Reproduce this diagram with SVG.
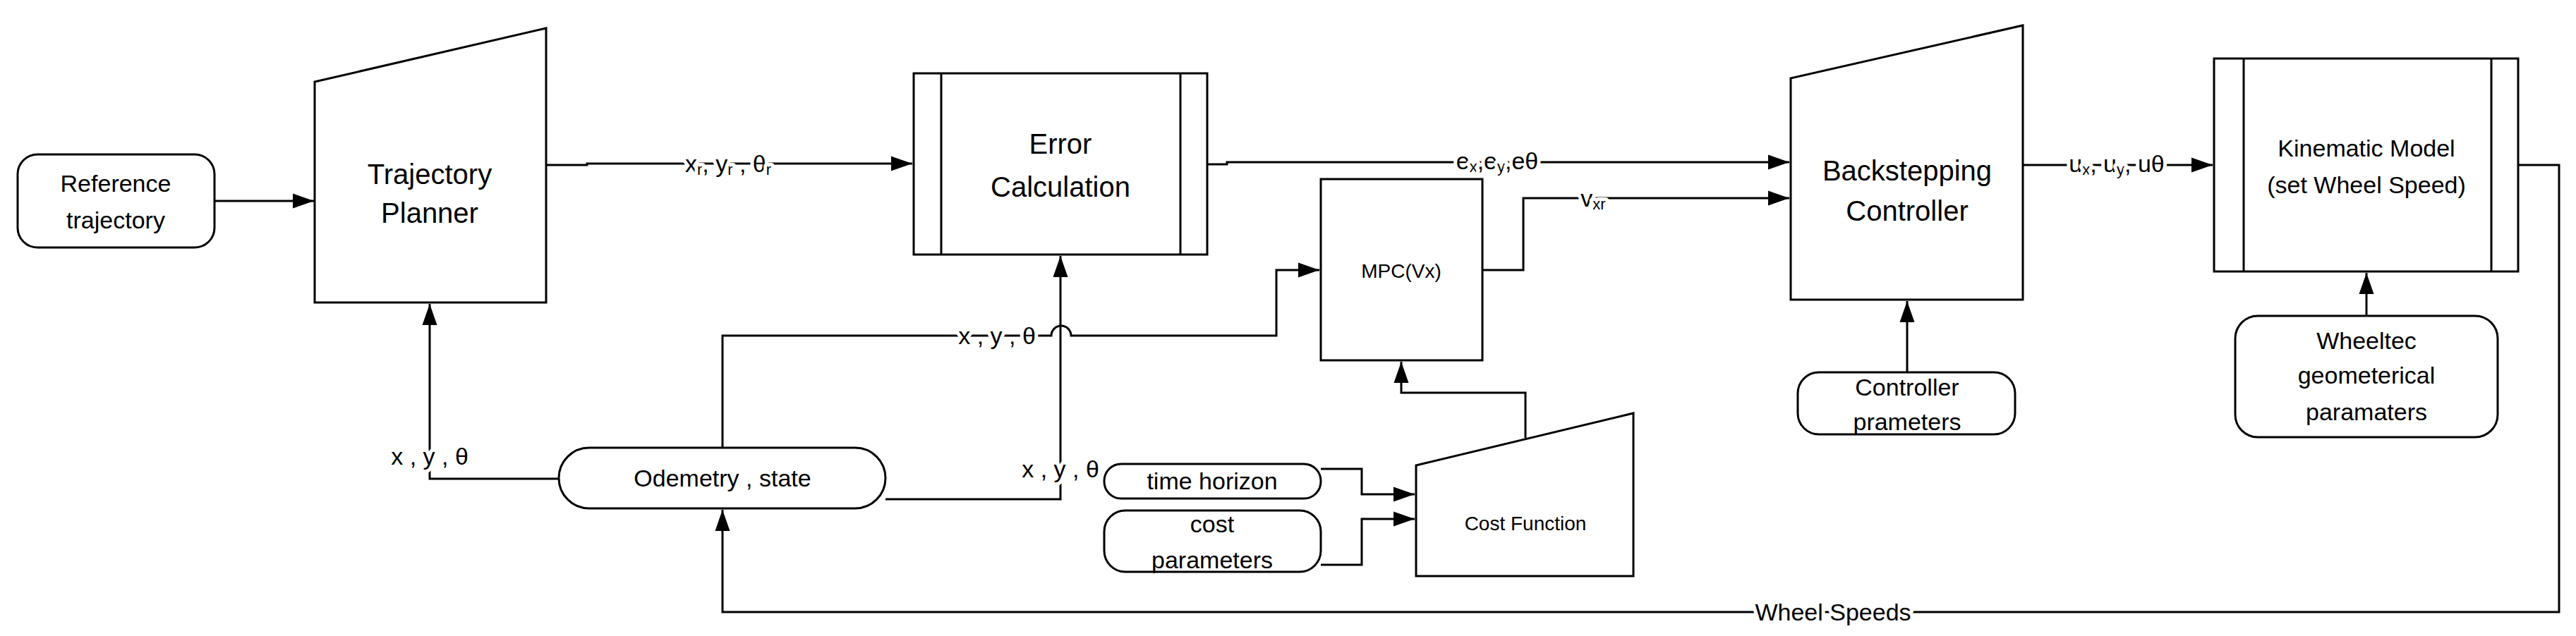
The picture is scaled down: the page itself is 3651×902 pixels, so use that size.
<svg xmlns="http://www.w3.org/2000/svg" width="3651" height="902" viewBox="0 0 3651 902">
<style>
.n{fill:#fff;stroke:#000;stroke-width:3}
.c{fill:none;stroke:#000;stroke-width:3}
text{font-family:"Liberation Sans",Arial,sans-serif;fill:#000;text-anchor:middle;dominant-baseline:central}
.b{font-size:40px}
.m{font-size:34px}
.s{font-size:28px}
.l{font-size:34px;stroke:#fff;stroke-width:10px;paint-order:stroke;stroke-linejoin:round}
.sub{font-size:22px}
</style>
<defs>
<marker id="a" viewBox="0 0 10 10" refX="10" refY="5" markerWidth="10" markerHeight="10" markerUnits="userSpaceOnUse" orient="auto"><path d="M0,0L10,5L0,10z" fill="#000"/></marker>
<marker id="A" viewBox="0 0 10 10" refX="10" refY="5" markerWidth="30" markerHeight="30" markerUnits="userSpaceOnUse" orient="auto"><path d="M0,1.5L10,5L0,8.5z" fill="#000"/></marker>
</defs>
<g id="connectors">
<path class="c" d="M304,285H445" marker-end="url(#A)"/>
<path class="c" d="M774,234H832V232H1293" marker-end="url(#A)"/>
<path class="c" d="M1711,233H1739V230H2536" marker-end="url(#A)"/>
<path class="c" d="M2101,383H2159V281H2536" marker-end="url(#A)"/>
<path class="c" d="M2867,234H3136" marker-end="url(#A)"/>
<path class="c" d="M3569,234H3627V868H1024V723" marker-end="url(#A)"/>
<path class="c" d="M792,679H609V431" marker-end="url(#A)"/>
<path class="c" d="M1255,708H1503V363" marker-end="url(#A)"/>
<path class="c" d="M1024,635V476H1490A14,14 0 0 1 1518,476H1809V383H1870" marker-end="url(#A)"/>
<path class="c" d="M2162,621V557H1986V513" marker-end="url(#A)"/>
<path class="c" d="M1872,665H1930V701H2005" marker-end="url(#A)"/>
<path class="c" d="M1872,801H1930V736H2005" marker-end="url(#A)"/>
<path class="c" d="M2703,528V427" marker-end="url(#A)"/>
<path class="c" d="M3354,448V387" marker-end="url(#A)"/>
<text class="l" x="1032" y="232">x<tspan class="sub" dy="8">r</tspan><tspan dy="-8">,  y</tspan><tspan class="sub" dy="8">r</tspan><tspan dy="-8"> , θ</tspan><tspan class="sub" dy="8">r</tspan></text>
<text class="l" x="2122" y="228">e<tspan class="sub" dy="8">x</tspan><tspan dy="-8">,e</tspan><tspan class="sub" dy="8">y</tspan><tspan dy="-8">,eθ</tspan></text>
<text class="l" x="2258" y="281">v<tspan class="sub" dy="8">xr</tspan></text>
<text class="l" x="3000" y="232">u<tspan class="sub" dy="8">x</tspan><tspan dy="-8">, u</tspan><tspan class="sub" dy="8">y</tspan><tspan dy="-8">, uθ</tspan></text>
<text class="l" x="2598" y="868">Wheel Speeds</text>
<text class="l" x="1413" y="476">x , y , θ</text>
<text class="l" x="609" y="647">x , y , θ</text>
<text class="l" x="1503" y="665">x , y , θ</text>
</g>
<g id="ref"><rect class="n" x="25" y="219" width="279" height="132" rx="28"/><text class="m" x="164" y="260">Reference</text><text class="m" x="164" y="312">trajectory</text></g>
<g id="planner"><path class="n" d="M446,116L774,40V429H446Z"/><text class="b" x="609" y="247">Trajectory</text><text class="b" x="609" y="302">Planner</text></g>
<g id="error"><rect class="n" x="1295" y="104" width="416" height="257"/><path class="c" d="M1334,104V361M1673,104V361"/><text class="b" x="1503" y="204">Error</text><text class="b" x="1503" y="265">Calculation</text></g>
<g id="mpc"><rect class="n" x="1872" y="254" width="229" height="257"/><text class="s" x="1986" y="384">MPC(Vx)</text></g>
<g id="backstepping"><path class="n" d="M2538,111L2867,36V425H2538Z"/><text class="b" x="2703" y="242">Backstepping</text><text class="b" x="2703" y="299">Controller</text></g>
<g id="kinematic"><rect class="n" x="3138" y="83" width="431" height="302"/><path class="c" d="M3180,83V385M3531,83V385"/><text class="m" x="3354" y="210">Kinematic Model</text><text class="m" x="3354" y="262">(set Wheel Speed)</text></g>
<g id="wheeltec"><rect class="n" x="3168" y="448" width="372" height="172" rx="32"/><text class="m" x="3354" y="483">Wheeltec</text><text class="m" x="3354" y="532">geometerical</text><text class="m" x="3354" y="584">paramaters</text></g>
<g id="ctrlparams"><rect class="n" x="2548" y="528" width="308" height="88" rx="30"/><text class="m" x="2703" y="549">Controller</text><text class="m" x="2703" y="598">prameters</text></g>
<g id="odometry"><rect class="n" x="792" y="635" width="463" height="86" rx="43"/><text class="m" x="1024" y="678">Odemetry , state</text></g>
<g id="timehorizon"><rect class="n" x="1565" y="658" width="307" height="49" rx="24"/><text class="m" x="1718" y="682">time horizon</text></g>
<g id="costparams"><rect class="n" x="1565" y="724" width="307" height="87" rx="30"/><text class="m" x="1718" y="743">cost</text><text class="m" x="1718" y="794">parameters</text></g>
<g id="costfn"><path class="n" d="M2007,660L2315,586V817H2007Z"/><text class="s" x="2162" y="742">Cost Function</text></g>
</svg>
